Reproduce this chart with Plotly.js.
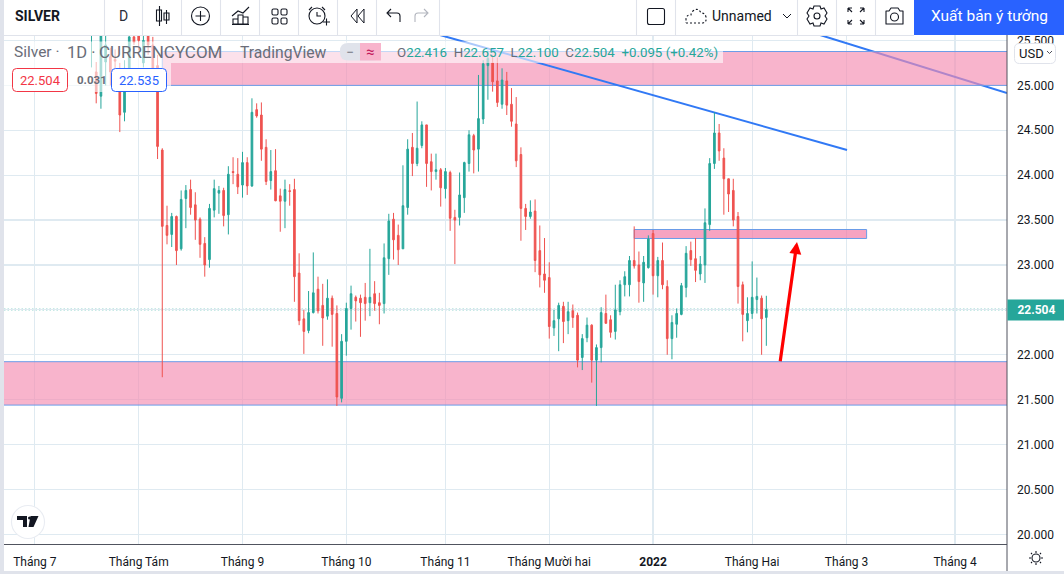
<!DOCTYPE html>
<html><head><meta charset="utf-8">
<script src="https://cdn.plot.ly/plotly-3.0.1.min.js"></script>
<style>
html,body{margin:0;padding:0;background:#fff;overflow:hidden}
#wrap{position:relative;width:1064px;height:574px}
#chart{position:absolute;left:0;top:0;width:1064px;height:574px}
#icons{position:absolute;left:0;top:0;pointer-events:none}
</style></head><body>
<div id="wrap"><div id="chart"></div>
<svg id="icons" width="1064" height="574" fill="none" stroke="#131722" stroke-width="1.1">
 <rect x="0" y="0" width="4" height="574" fill="#e0e3eb" stroke="none"/>
 <rect x="0" y="571" width="1064" height="3" fill="#e0e3eb" stroke="none"/>
 <g stroke="#e0e3eb"><path d="M4 35.5H914M104.5 0V35M142.5 0V35M181.5 0V35M220.5 0V35M259.5 0V35M298.5 0V35M337.5 0V35M376.5 0V35M439.5 0V35M636.5 0V35M675.5 0V35M797.5 0V35M836.5 0V35M875.5 0V35"/></g>
 <path d="M159.5 6V26M156.5 10h5v11h-5zM166.5 10V24M164 13h5v7h-5z"/>
 <circle cx="200.5" cy="16" r="9"/><path d="M200.5 11V21M195.5 16H205.5"/>
 <path d="M232 16l6-5 5 2 6-6M233 24v-5h5v5zM238 24v-9h5v9zM243 24v-7h5v7zM232 24.500H249"/>
 <rect x="272" y="9" width="6" height="6" rx="1.500"/><rect x="281" y="9" width="6" height="6" rx="1.500"/><rect x="272" y="18" width="6" height="6" rx="1.500"/><rect x="281" y="18" width="6" height="6" rx="1.500"/>
 <circle cx="317" cy="16" r="8"/><path d="M317 12v4h4M309 10l3-3M325 10l-3-3M323 22h7M326.500 18.500v7"/>
 <path d="M357 9l-6 7 6 7zM364 9l-6 7 6 7z" stroke-width="1"/>
 <path d="M388 13h9q3 0 3 3v6M391 9l-4 4 4 4"/>
 <path d="M427 13h-9q-3 0-3 3v6M424 9l4 4-4 4" stroke="#b2b5be"/>
 <rect x="647.500" y="8.500" width="17" height="16" rx="2"/>
 <path d="M686 23h17q4-1 3-6-1-4-5-4-3-6-8-2-2 2-2 4-5 0-5 4 0 3 0 4" stroke-dasharray="2 2"/>
 <path d="M783 14l4 4 4-4" stroke-width="1"/>
 <circle cx="817" cy="16" r="3"/><path d="M814 6h6l1 3 3-1 3 5-2 3 2 3-3 5-3-1-1 3h-6l-1-3-3 1-3-5 2-3-2-3 3-5 3 1z"/>
 <path d="M848 8h4M848 8v4M848 8l4 4M864 8h-4M864 8v4M864 8l-4 4M848 24h4M848 24v-4M848 24l4-4M864 24h-4M864 24v-4M864 24l-4-4"/>
 <path d="M886 11h3l2-3h7l2 3h3v13h-17z" stroke-linejoin="round"/><circle cx="894.500" cy="17" r="4"/>
 <circle cx="28" cy="522" r="16.500" fill="#fff" stroke="#e9ecf2"/>
 <path d="M17 516h10v11h-4v-7h-6zM30.500 516h8l-5 11h-5z" fill="#131722" stroke="none"/>
 <circle cx="29.500" cy="518" r="1.500" fill="#131722" stroke="none"/>
 <circle cx="1036" cy="558" r="4"/><path d="M1036 551v2M1036 563v2M1029 558h2M1041 558h2M1031 553l1 1M1040 562l1 1M1031 563l1-1M1040 554l1-1"/>
 <path d="M1047 51l2.500 2.500 2.500-2.500" stroke="#50535e" stroke-width="1"/>
</svg></div>
<script>
const opens=[25.62,25.15,24.88,25.26,25.32,25.29,25.15,24.7,25.19,25.54,25.6,25.25,25.6,25.45,25.22,24.28,23.44,23.34,23.54,23.18,23.74,23.84,23.67,23.51,23.24,23.06,23.61,23.80,23.83,23.56,24.04,24.01,23.89,24.14,23.88,24.73,24.67,24.31,23.94,24.05,23.77,23.71,23.826,23.84,22.91,22.40,22.27,22.47,22.73,22.55,22.43,22.63,22.46,21.515,22.15,22.515,22.64,22.63,22.64,22.58,22.68,22.58,22.57,23.07,23.51,23.33,23.18,23.64,24.31,24.13,24.33,24.56,24.15,24.04,24.06,23.85,24.03,23.53,23.53,23.75,24.13,24.44,24.29,24.625,25.22,25.25,25.05,24.79,25.05,24.79,24.57,24.23,23.63,23.54,23.60,23.16,22.90,22.86,22.30,22.40,22.54,22.38,22.49,22.44,21.97,22.19,22.33,21.94,22.08,22.46,22.39,22.26,22.48,22.78,22.78,23.05,23.00,22.80,22.97,23.35,22.88,23.05,22.76,22.18,22.34,22.45,22.75,23.16,23.07,22.90,23.00,23.45,24.13,24.47,24.19,23.96,23.83,23.54,22.78,22.38,22.46,22.615,22.63,22.416];
const highs=[25.8,25.26,25.7,25.56,25.42,25.4,25.25,25.28,25.6,25.6,25.7,25.56,25.7,25.54,25.34,24.30,23.66,23.58,23.55,23.83,23.89,23.95,23.81,23.53,23.31,23.68,23.95,23.88,23.86,24.10,24.20,24.19,24.26,24.20,24.856,24.80,24.81,24.40,24.28,24.29,23.85,23.95,23.90,23.96,23.13,22.50,22.71,23.14,22.87,22.79,22.84,22.66,22.55,22.23,22.58,22.77,22.66,22.67,22.80,23.18,22.82,22.69,23.24,23.57,23.58,23.45,24.11,24.40,24.47,24.82,24.60,24.56,24.24,24.24,24.08,24.08,24.05,23.615,24.03,24.15,24.50,24.46,25.116,25.28,25.39,25.34,25.31,25.19,25.15,24.97,24.87,24.31,23.68,23.72,23.73,23.44,23.30,23.03,22.50,22.58,22.59,22.59,22.56,22.47,22.23,22.415,22.34,22.115,22.53,22.67,22.44,22.78,22.83,22.93,23.10,23.43,23.15,23.10,23.33,23.39,23.09,23.25,22.83,22.44,22.515,22.80,23.21,23.26,23.30,23.10,23.63,24.19,24.70,24.57,24.30,23.96,23.96,23.59,22.815,22.64,23.04,22.86,22.66,22.657];
const lows=[25.2,24.80,24.74,25.0,25.0,25.05,24.48,24.6,25.15,25.45,25.39,25.2,25.34,25.1,24.18,21.75,23.23,23.20,23.00,23.16,23.41,23.56,23.28,23.08,22.87,22.97,23.53,23.57,23.43,23.34,23.90,23.79,23.75,23.78,23.87,24.64,24.16,23.89,23.84,23.71,23.37,23.41,23.66,22.59,22.33,22.01,22.24,22.46,22.46,22.10,22.39,22.09,21.43,21.47,21.99,22.28,22.37,22.20,22.38,22.43,22.49,22.34,22.46,22.89,23.06,23.00,23.18,23.56,23.99,24.10,24.30,23.87,23.83,23.95,23.65,23.74,23.38,23.01,23.44,23.58,24.04,24.02,24.04,24.57,24.84,24.93,24.76,24.74,24.67,24.54,24.09,23.27,23.39,23.515,22.92,22.75,22.69,22.18,22.21,22.04,22.13,22.23,22.30,21.86,21.83,22.14,21.69,21.43,21.915,22.35,22.19,22.17,22.44,22.65,22.65,22.96,22.58,22.59,22.96,22.67,22.64,22.73,22.00,21.95,22.19,22.44,22.64,22.99,22.81,22.83,22.80,23.38,24.07,24.16,23.56,23.59,23.43,22.57,22.15,22.25,22.40,22.46,22.00,22.10];
const closes=[25.7,24.91,25.55,25.45,25.15,25.27,24.67,25.19,25.54,25.48,25.5,25.5,25.45,25.19,24.32,23.43,23.33,23.54,23.16,23.73,23.83,23.64,23.50,23.23,23.00,23.63,23.85,23.83,23.55,24.01,24.03,23.87,24.14,23.88,24.70,24.66,24.29,23.93,24.04,23.715,23.71,23.84,23.82,22.87,22.38,22.26,22.47,22.69,22.49,22.41,22.63,22.45,21.53,22.15,22.515,22.68,22.60,22.58,22.57,22.64,22.57,22.55,23.08,23.49,23.28,23.17,23.66,24.29,24.13,24.30,24.56,24.13,24.04,24.06,23.86,24.04,23.52,23.50,23.78,24.14,24.45,24.28,24.63,25.24,25.30,25.04,24.81,25.06,24.78,24.60,24.16,23.63,23.54,23.59,23.05,22.89,22.83,22.315,22.38,22.55,22.37,22.48,22.415,21.94,22.18,22.33,21.94,22.08,22.47,22.35,22.25,22.50,22.78,22.87,23.05,22.99,22.815,23.03,23.29,22.88,23.05,22.78,22.18,22.36,22.46,22.77,23.13,23.06,22.94,23.01,23.47,24.13,24.47,24.27,23.96,23.79,23.50,22.76,22.45,22.46,22.64,22.65,22.40,22.504];
const barIndex=opens.map((_,i)=>i);
const monthTicks=[-12,10,32,54,75,97,119,140,160,183];
const monthLabels=['Tháng 7','Tháng Tám','Tháng 9','Tháng 10','Tháng 11','Tháng Mười hai','<b>2022</b>','Tháng Hai','Tháng 3','Tháng 4'];
const priceTicks=[20,20.5,21,21.5,22,22.5,23,23.5,24,24.5,25,25.5];
const lastPrice=22.504;
const xRange=[-18.54,194.0], yRange=[19.893,25.561];

const L=4,R=1007,T=35,B=544;
const fx=p=>(p-L)/(R-L), fy=p=>(B-p)/(B-T);
const GREEN='#26a69a',RED='#ef5350',INK='#131722',GRID='#dfeaf1',EDGE='#6a9ce8';
const FONT='Roboto, "Liberation Sans", sans-serif';

function rr(x0,y0,x1,y1,r,fill,line){
  const X=fx,Y=fy,rx=r/(R-L),ry=r/(B-T);
  const a=X(x0),b=X(x1),c=Y(y0),d=Y(y1);
  return {type:'path',xref:'paper',yref:'paper',layer:'above',fillcolor:fill,line:{color:line,width:line==='rgba(0,0,0,0)'?0:1},
    path:`M${a+rx},${c}L${b-rx},${c}Q${b},${c} ${b},${c-ry}L${b},${d+ry}Q${b},${d} ${b-rx},${d}L${a+rx},${d}Q${a},${d} ${a},${d+ry}L${a},${c-ry}Q${a},${c} ${a+rx},${c}Z`};
}
function band(x0,y0,x1,y1,fill){return {type:'rect',xref:'paper',yref:'paper',layer:'above',x0:fx(x0),x1:fx(x1),y0:fy(y0),y1:fy(y1),fillcolor:fill,line:{width:0}};}
function zone(x0,x1,y0,y1,fill){return {type:'rect',xref:'x',yref:'y',layer:'between',x0,x1,y0,y1,fillcolor:fill,line:{color:EDGE,width:1}};}
function seg(x0,y0,x1,y1){return {type:'line',xref:'x',yref:'y',layer:'between',x0,y0,x1,y1,line:{color:'#3179f5',width:2}};}

const shapes=[
  {type:'line',xref:'paper',yref:'y',layer:'between',x0:0,x1:1,y0:lastPrice,y1:lastPrice,line:{color:GREEN,width:1.5,dash:'1.5px,2px'}},
  seg(154.4,25.561,194,24.915),
  zone(15,200,25.0,25.377,'rgba(244,140,177,0.65)'),
  zone(-30,200,21.44,21.923,'rgba(244,140,177,0.65)'),
  zone(115,164.25,23.295,23.395,'rgba(243,114,160,0.65)'),
  seg(73.85,25.561,160.1,24.28),
  band(4,41.5,723,63,'rgba(255,255,255,0.6)'),
  band(4,63,171,92,'rgba(255,255,255,0.6)'),
  rr(12.5,68.5,67.5,91.5,4,'#fff','#f23645'),
  rr(111.5,68.5,166.5,91.5,4,'#fff','#2962ff'),
  rr(340,43,381,60.5,8,'#e0e3eb','rgba(0,0,0,0)'),
  {type:'rect',xref:'paper',yref:'paper',layer:'above',x0:fx(360),x1:fx(381),y0:fy(43),y1:fy(60.5),fillcolor:'#f8b4cc',line:{width:0}},
  rr(1014.5,43.5,1055.5,63.5,5,'#fff','#e0e3eb'),
  band(914,0,1064,35,'#2962ff'),
  {type:'line',xref:'paper',yref:'paper',layer:'above',x0:1,x1:1,y0:fy(572),y1:fy(35),line:{color:'#50535e',width:1}}
];

function ann(text,x,y,o={}){
  return {text,xref:'paper',yref:'paper',x:fx(x),y:fy(y),xanchor:o.a||'left',yanchor:'middle',showarrow:false,
    font:{family:FONT,size:o.s||13,color:o.c||INK},borderpad:0};
}
const v=t=>`<span style="color:${GREEN}">${t}</span>`;
const annotations=[
  ann('<b>SILVER</b>',14,16,{s:14}),
  ann('D',123,16,{a:'center',s:14,c:'#2a2e39'}),
  ann('Unnamed',711,16,{s:14}),
  ann('Xuất bản ý tưởng',989,16,{a:'center',s:15.5,c:'#fff'}),
  ann('Silver ·',13,52,{s:15.5,c:'#6a6d78'}),
  ann('1D ·',66,52,{s:16.5,c:'#6a6d78'}),
  ann('CURRENCYCOM',98,52,{s:17,c:'#6a6d78'}),
  ann('TradingView',239,52,{s:15.7,c:'#6a6d78'}),
  ann('−',350,51.5,{a:'center',s:14,c:'#787b86'}),
  ann('≈',370,51.5,{a:'center',s:15,c:'#c2185b'}),
  ann(`O${v('22.416')}  H${v('22.657')}  L${v('22.100')}  C${v('22.504')}  ${v('+0.095 (+0.42%)')}`,396,52.5,{s:13.3,c:'#6a6d78'}),
  ann('22.504',40,80,{a:'center',s:13,c:'#f23645'}),
  ann('<b>0.031</b>',76,80,{s:11.5,c:'#6a6d78'}),
  ann('22.535',139,80,{a:'center',s:13,c:'#2962ff'}),
  ann('USD',1031,54,{a:'center',s:13}),
  {text:'<b>22.504</b>',xref:'paper',yref:'y',x:1,y:lastPrice,xanchor:'left',yanchor:'middle',showarrow:false,width:57,height:20,
   bgcolor:GREEN,font:{family:FONT,size:12,color:'#fff'},borderpad:0},
  {text:'',xref:'x',yref:'y',axref:'x',ayref:'y',x:149.5,y:23.256,ax:145.9,ay:21.912,showarrow:true,arrowhead:2,arrowsize:0.75,arrowwidth:3.2,arrowcolor:'#ff0000'}
];

const trace={type:'candlestick',x:barIndex,open:opens,high:highs,low:lows,close:closes,whiskerwidth:0,
  increasing:{line:{color:GREEN,width:1},fillcolor:GREEN},decreasing:{line:{color:RED,width:1},fillcolor:RED},hoverinfo:'skip',showlegend:false};

Plotly.newPlot('chart',[trace],{
  width:1064,height:574,margin:{l:L,r:1064-R,t:T,b:574-B,pad:0},
  paper_bgcolor:'rgba(0,0,0,0)',plot_bgcolor:'#fff',showlegend:false,boxgap:0.5,
  font:{family:FONT,size:12,color:INK},
  xaxis:{range:xRange,rangeslider:{visible:false},tickmode:'array',tickvals:monthTicks,ticktext:monthLabels,tickangle:0,showgrid:true,gridcolor:GRID,gridwidth:1.2,
    showline:true,linecolor:'#50535e',linewidth:1,ticks:'',ticklabelstandoff:7,zeroline:false,tickfont:{family:FONT,size:12,color:INK},fixedrange:true},
  yaxis:{range:yRange,side:'right',tickmode:'array',tickvals:priceTicks,ticktext:priceTicks.map(p=>p.toFixed(3)),showgrid:true,gridcolor:GRID,gridwidth:1.2,
    showline:false,ticks:'',ticklabelstandoff:9,zeroline:false,tickfont:{family:FONT,size:12,color:INK},fixedrange:true},
  shapes,annotations
},{displayModeBar:false,staticPlot:true});
</script></body></html>
